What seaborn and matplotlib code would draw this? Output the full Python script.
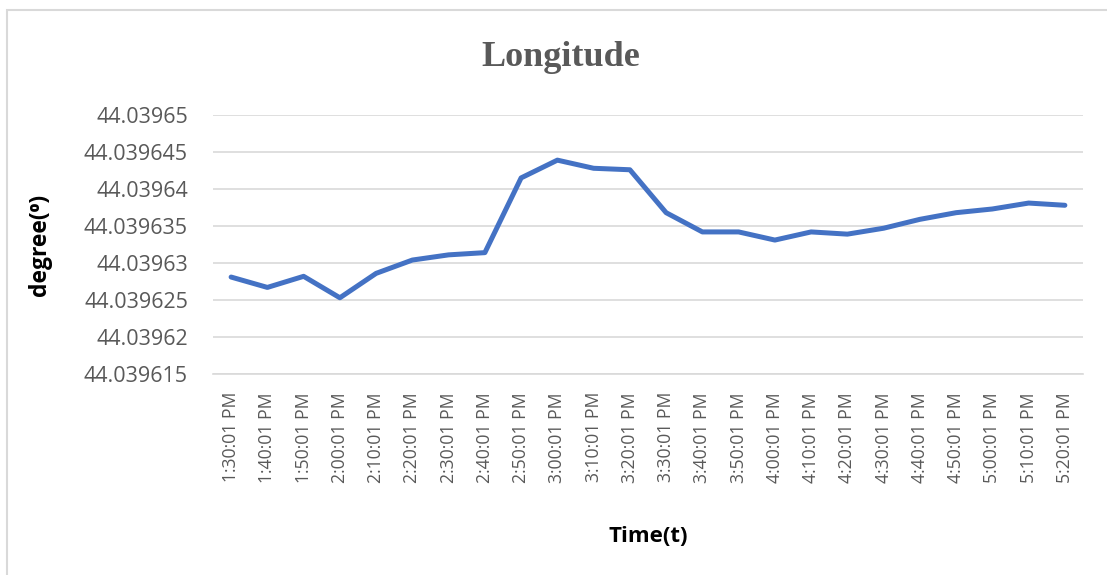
import matplotlib
matplotlib.use("Agg")
import matplotlib.pyplot as plt
from matplotlib.patches import Rectangle
import seaborn as sns
import pandas as pd

# Sampling times (10-minute intervals)
times = [
    "1:30:01 PM", "1:40:01 PM", "1:50:01 PM", "2:00:01 PM", "2:10:01 PM",
    "2:20:01 PM", "2:30:01 PM", "2:40:01 PM", "2:50:01 PM", "3:00:01 PM",
    "3:10:01 PM", "3:20:01 PM", "3:30:01 PM", "3:40:01 PM", "3:50:01 PM",
    "4:00:01 PM", "4:10:01 PM", "4:20:01 PM", "4:30:01 PM", "4:40:01 PM",
    "4:50:01 PM", "5:00:01 PM", "5:10:01 PM", "5:20:01 PM",
]

# Longitude readings in degrees
longitude = [
    44.0396281, 44.0396267, 44.0396282, 44.0396253, 44.0396286,
    44.0396304, 44.0396311, 44.0396314, 44.0396415, 44.0396439,
    44.0396428, 44.0396426, 44.0396368, 44.0396342, 44.0396342,
    44.0396331, 44.0396342, 44.0396339, 44.0396347, 44.0396359,
    44.0396368, 44.0396373, 44.0396381, 44.0396378,
]

# Value axis ticks and their labels
y_ticks = [44.039615, 44.03962, 44.039625, 44.03963,
           44.039635, 44.03964, 44.039645, 44.03965]
y_tick_labels = ["44.039615", "44.03962", "44.039625", "44.03963",
                 "44.039635", "44.03964", "44.039645", "44.03965"]

df = pd.DataFrame({"time": times, "longitude": longitude})

sns.set_theme(style="white")
plt.rcParams["font.family"] = ["Open Sans", "DejaVu Sans"]

W, H = 1107, 575
fig = plt.figure(figsize=(W / 100, H / 100), dpi=100)
ax = fig.add_axes([213 / W, 1 - 374 / H, (1083 - 213) / W, (374 - 115) / H])

sns.lineplot(data=df, x="time", y="longitude", ax=ax, sort=False,
             color="#4472C4", linewidth=3.6, solid_capstyle="round",
             solid_joinstyle="round", zorder=3)

ax.set_xlim(-0.5, len(times) - 0.5)
ax.set_ylim(y_ticks[0], y_ticks[-1])
ax.set_yticks(y_ticks)
ax.set_yticklabels(y_tick_labels)
ax.set_xticks(range(len(times)))
ax.set_xticklabels(times, rotation=90)

ax.yaxis.grid(True, color="#D9D9D9", linewidth=1.2)
ax.xaxis.grid(False)
for side in ["left", "right", "top"]:
    ax.spines[side].set_visible(False)
ax.spines["bottom"].set_color("#D9D9D9")
ax.spines["bottom"].set_linewidth(1.2)

ax.tick_params(axis="y", length=0, pad=18, labelsize=15.5, labelcolor="#595959")
ax.tick_params(axis="x", length=0, pad=13, labelsize=12.7, labelcolor="#595959")

ax.set_xlabel("")
ax.set_ylabel("")

fig.text(648 / W, 1 - 536 / H, "Time(t)", ha="center", va="center",
         fontsize=16, fontweight="bold", color="black")
fig.text(40 / W, 1 - 245 / H, "degree(⁰)", ha="center", va="center",
         rotation=90, fontsize=16.5, fontweight="bold", color="black")
fig.text(561 / W, 1 - 57 / H, "Longitude", ha="center", va="center",
         fontsize=26, fontweight="bold", color="#595959",
         family=["Liberation Serif", "DejaVu Serif"])

# Chart-area frame
fig.patches.append(Rectangle((7 / W, -0.1), 1.2, 1 - 10 / H + 0.1,
                             transform=fig.transFigure, fill=False,
                             edgecolor="#D9D9D9", linewidth=1.5))

fig.savefig("out.png", dpi=100)
